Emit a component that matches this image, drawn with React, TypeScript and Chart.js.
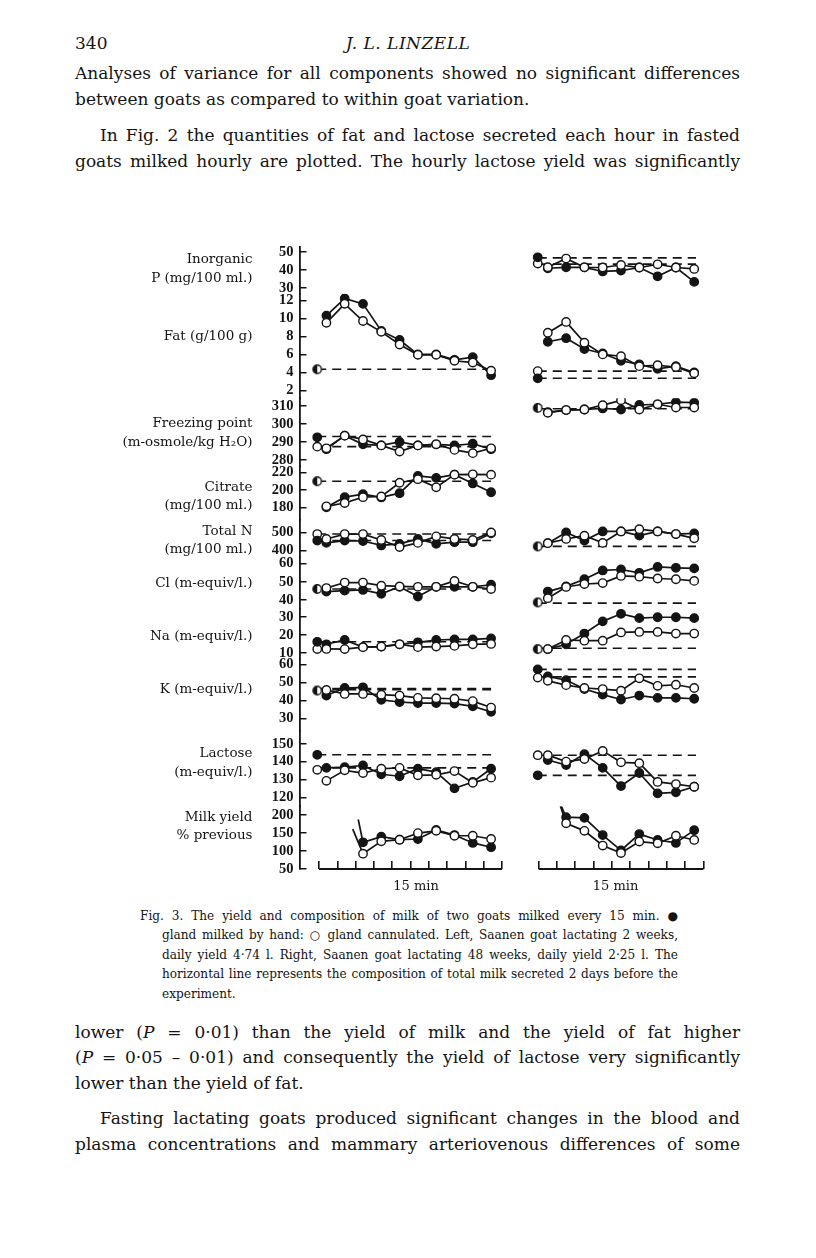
import React, { useEffect, useRef } from "react";
import { Chart, registerables } from "chart.js";

Chart.register(...registerables);

// ---------- sampling times (x, in 15-min tick units) ----------
const leftTicks = [1, 2, 3, 4, 5, 6, 7, 8, 9, 10, 11];
const rightTicks = [13, 14, 15, 16, 17, 18, 19, 20, 21, 22];
const leftTimes = [1.4, 2.4, 3.4, 4.4, 5.4, 6.4, 7.4, 8.4, 9.4, 10.4];
const rightTimes = [13.5, 14.5, 15.5, 16.5, 17.5, 18.5, 19.5, 20.5, 21.5];
const leftMilkTimes = [3.4, 4.4, 5.4, 6.4, 7.4, 8.4, 9.4, 10.4];
const rightMilkTimes = [14.5, 15.5, 16.5, 17.5, 18.5, 19.5, 20.5, 21.5];
const leftBaseTime = 0.9;
const rightBaseTime = 12.95;
const leftRefEnd = 10.4;
const rightRefEnd = 21.6;
const xLabelTimes = [6.3, 17.2];
const xLabelText = "15 min";

// ---------- Inorganic P (mg/100 ml.) ----------
const pTicks = [50, 40, 30];
const pRightFilled = [40.9, 41.4, 41.4, 39.1, 39.6, 41.3, 36.4, 41.3, 33.3];
const pRightOpen = [41.5, 46.3, 41.4, 41.3, 42.7, 41.3, 43.1, 41.3, 40.5];
const pRightBase = [47.0, 43.5];
const pRightRefs = [46.7, 43.2];

// ---------- Fat (g/100 g) ----------
const fatTicks = [12, 10, 8, 6, 4, 2];
const fatLeftFilled = [10.3, 12.2, 11.6, 8.6, 7.6, 6.0, 6.0, 5.4, 5.7, 3.7];
const fatLeftOpen = [9.5, 11.6, 9.7, 8.5, 7.1, 5.95, 5.95, 5.3, 5.1, 4.2];
const fatLeftBase = [4.35, 4.35];
const fatLeftRefs = [4.35];
const fatRightFilled = [7.4, 7.8, 6.6, 6.1, 5.3, 4.9, 4.4, 4.7, 4.0];
const fatRightOpen = [8.4, 9.6, 7.3, 6.0, 5.8, 4.7, 4.8, 4.6, 3.9];
const fatRightBase = [3.35, 4.15];
const fatRightRefs = [3.35, 4.15];

// ---------- Freezing point (m-osmole/kg H2O) ----------
const fpTicks = [310, 300, 290, 280];
const fpLeftFilled = [286, 293.5, 288.7, 288.1, 290, 288.1, 288.7, 288.1, 289, 286];
const fpLeftOpen = [286.5, 293.5, 291.4, 288.1, 284.7, 288.1, 288.7, 285.6, 283.8, 286.5];
const fpLeftBase = [292.6, 287.4];
const fpLeftRefs = [293.0, 287.4];
const fpRightFilled = [306.5, 307.7, 308, 308.6, 308, 310.5, 310.9, 312.1, 311.8];
const fpRightOpen = [306.2, 307.7, 308, 310.4, 313.1, 308, 310.9, 309.1, 309.1];
const fpRightBase = [308.9, 308.9];
const fpRightRefs = [308.4];

// ---------- Citrate (mg/100 ml.) ----------
const citTicks = [220, 200, 180];
const citLeftFilled = [180, 191.7, 195.1, 191.4, 196.3, 216.4, 214.1, 217.8, 207.6, 197.4];
const citLeftOpen = [181.1, 184.9, 191.7, 192.5, 208.4, 212.5, 203.1, 217.8, 218.2, 217.8];
const citLeftBase = [210.2, 210.2];
const citLeftRefs = [210.2];

// ---------- Total N (mg/100 ml.) ----------
const tnTicks = [500, 400];
const tnLeftFilled = [441.5, 454.6, 452, 427.3, 436, 463.4, 436, 445.4, 445.4, 494.5];
const tnLeftOpen = [463.4, 490.7, 490.7, 458, 418, 441.5, 478, 463.4, 458, 500];
const tnLeftBase = [454.6, 490.7];
const tnLeftRefs = [454.6, 490.7];
const tnRightFilled = [440, 500, 454.6, 505.5, 505.5, 482, 505.5, 490.7, 494.5];
const tnRightOpen = [440, 463.4, 482, 441.5, 505.5, 518, 505.5, 490.7, 467];
const tnRightBase = [421.9, 421.9];
const tnRightRefs = [421.9];

// ---------- Cl (m-equiv/l.) ----------
const clTicks = [60, 50, 40];
const clLeftFilled = [44.7, 45.2, 45.6, 43.5, 47.3, 42.0, 47.3, 47.3, 47.3, 48.4];
const clLeftOpen = [46.6, 49.6, 49.6, 47.9, 47.5, 47.3, 47.3, 50.5, 47.3, 46.1];
const clLeftBase = [46.1, 46.1];
const clLeftRefs = [46.1];
const clRightFilled = [44.7, 47.5, 51.4, 56.2, 56.7, 54.9, 58.1, 57.6, 57.3];
const clRightOpen = [41.1, 47.2, 48.8, 49.3, 53.2, 52.8, 51.8, 51.4, 50.5];
const clRightBase = [38.8, 38.8];
const clRightRefs = [38.4];

// ---------- Na (m-equiv/l.) ----------
const naTicks = [30, 20, 10];
const naLeftFilled = [14.9, 17.3, 13.3, 13.6, 14.9, 16.0, 17.3, 17.6, 17.6, 18.2];
const naLeftOpen = [12.3, 12.2, 13.3, 13.6, 14.9, 13.3, 13.6, 14.0, 14.9, 15.1];
const naLeftBase = [16.3, 12.2];
const naLeftRefs = [16.3];
const naRightFilled = [12.2, 14.9, 20.9, 27.7, 31.9, 29.5, 30.0, 30.0, 29.5];
const naRightOpen = [12.2, 17.3, 16.9, 16.9, 21.5, 21.8, 21.8, 20.9, 20.9];
const naRightBase = [12.2, 12.2];
const naRightRefs = [12.7];

// ---------- K (m-equiv/l.) ----------
const kTicks = [60, 50, 40, 30];
const kLeftFilled = [42.7, 46.9, 47.3, 40.3, 39.1, 38.5, 38.5, 38.2, 36.7, 33.6];
const kLeftOpen = [45.8, 43.6, 43.6, 43.2, 42.7, 41.4, 41.2, 40.9, 39.6, 36.0];
const kLeftBase = [45.5, 45.5];
const kLeftRefs = [46.0, 46.6];
const kRightFilled = [53.3, 51.3, 46.3, 43.2, 40.5, 42.7, 41.4, 41.4, 40.9];
const kRightOpen = [50.9, 48.5, 46.9, 46.3, 45.4, 52.3, 48.1, 48.7, 46.9];
const kRightBase = [57.3, 52.7];
const kRightRefs = [57.3, 53.1];

// ---------- Lactose (m-equiv/l.) ----------
const lacTicks = [150, 140, 130, 120];
const lacLeftFilled = [136.5, 136.9, 137.8, 132.9, 131.8, 136.0, 134.1, 125.0, 128.6, 136.0];
const lacLeftOpen = [129.2, 135.1, 133.6, 136.0, 136.5, 132.3, 132.6, 134.7, 128.1, 131.0];
const lacLeftBase = [143.8, 135.4];
const lacLeftRefs = [143.8, 136.5];
const lacRightFilled = [140.9, 138.1, 144.2, 136.5, 126.3, 133.6, 122.2, 122.8, 125.9];
const lacRightOpen = [143.6, 140.0, 141.4, 146.0, 139.6, 139.1, 128.6, 127.4, 125.9];
const lacRightBase = [132.3, 143.6];
const lacRightRefs = [132.3, 143.6];

// ---------- Milk yield (% previous) ----------
const milkTicks = [200, 150, 100, 50];
const milkLeftFilled = [124.4, 139.9, 131.7, 133.6, 159.0, 144.5, 122.7, 110.7];
const milkLeftOpen = [92.7, 127.1, 131.7, 150.0, 156.3, 142.6, 142.6, 133.6];
const milkLeftLeadTimes = [3.14, 2.84];
const milkLeftLeadValues = [188, 161];
const milkRightFilled = [194.5, 192.5, 144.5, 101.7, 147.3, 130.9, 122.7, 158.2];
const milkRightOpen = [177.3, 156.3, 115.4, 94.4, 126.3, 121.6, 142.6, 130.9];
const milkRightLeadTimes = [14.05, 14.05];
const milkRightLeadValues = [247, 247];

// ---------- panel (axis) layout ----------
const panels = [
  { id: "yP", title: ["Inorganic", "P (mg/100 ml.)"], ticks: pTicks, min: 26.73, max: 52.9, h: 48, labelAt: 40.6 },
  { id: "yFat", title: ["Fat (g/100 g)"], ticks: fatTicks, min: 1.13, max: 12.73, h: 107, labelAt: 8 },
  { id: "yFp", title: ["Freezing point", "(m-osmole/kg H\u2082O)"], ticks: fpTicks, min: 276.47, max: 314.18, h: 69.5, labelAt: 294.9 },
  { id: "yCit", title: ["Citrate", "(mg/100 ml.)"], ticks: citTicks, min: 165.6, max: 227.4, h: 54.5, labelAt: 192.3 },
  { id: "yTn", title: ["Total N", "(mg/100 ml.)"], ticks: tnTicks, min: 363.4, max: 571, h: 38, labelAt: 453.5 },
  { id: "yCl", title: ["Cl (m-equiv/l.)"], ticks: clTicks, min: 35.37, max: 63.56, h: 53, labelAt: 49 },
  { id: "yNa", title: ["Na (m-equiv/l.)"], ticks: naTicks, min: 6.89, max: 34.75, h: 51, labelAt: 19.5 },
  { id: "yK", title: ["K (m-equiv/l.)"], ticks: kTicks, min: 22.91, max: 63.27, h: 74, labelAt: 45.8 },
  { id: "yLac", title: ["Lactose", "(m-equiv/l.)"], ticks: lacTicks, min: 114.9, max: 157.13, h: 77, labelAt: 139.3 },
  { id: "yMilk", title: ["Milk yield", "% previous"], ticks: milkTicks, min: 50, max: 224.5, h: 64, labelAt: 168.5 },
];

const INK = "#141414";

function makeHalfMarker(): HTMLCanvasElement {
  const c = document.createElement("canvas");
  c.width = 12;
  c.height = 12;
  const g = c.getContext("2d")!;
  g.beginPath();
  g.arc(6, 6, 4.2, 0, Math.PI * 2);
  g.fillStyle = "#fff";
  g.fill();
  g.beginPath();
  g.moveTo(6, 6);
  g.arc(6, 6, 4.2, Math.PI / 2, (Math.PI * 3) / 2);
  g.closePath();
  g.fillStyle = INK;
  g.fill();
  g.beginPath();
  g.arc(6, 6, 4.2, 0, Math.PI * 2);
  g.lineWidth = 1.4;
  g.strokeStyle = INK;
  g.stroke();
  return c;
}

function buildDatasets(half: HTMLCanvasElement) {
  const ds: any[] = [];
  const pt = (filled: boolean) => ({
    pointStyle: "circle",
    pointBackgroundColor: filled ? INK : "#fff",
    pointBorderColor: INK,
    pointBorderWidth: 1.4,
  });
  const series = (
    yAxisID: string,
    times: number[],
    vals: number[],
    filled: boolean,
    leadT?: number,
    leadV?: number
  ) => {
    const data = times.map((t, i) => ({ x: t, y: vals[i] }));
    const radii = data.map(() => 4.2);
    if (leadT !== undefined && leadV !== undefined) {
      data.unshift({ x: leadT, y: leadV });
      radii.unshift(0);
    }
    ds.push({
      type: "line",
      yAxisID,
      data,
      borderColor: INK,
      borderWidth: 1.7,
      pointRadius: radii,
      ...pt(filled),
      fill: false,
      tension: 0,
      order: filled ? 2 : 1,
    });
  };
  const side = (
    yAxisID: string,
    times: number[],
    filled: number[],
    open: number[],
    baseTime: number,
    base: number[],
    refs: number[],
    refEnd: number
  ) => {
    refs.forEach((v) =>
      ds.push({
        type: "line",
        yAxisID,
        data: [
          { x: baseTime, y: v },
          { x: refEnd, y: v },
        ],
        borderColor: INK,
        borderWidth: 1.6,
        borderDash: [9, 6],
        pointRadius: 0,
        fill: false,
        order: 5,
      })
    );
    series(yAxisID, times, filled, true);
    series(yAxisID, times, open, false);
    if (base[0] === base[1]) {
      ds.push({
        type: "line",
        yAxisID,
        data: [{ x: baseTime, y: base[0] }],
        showLine: false,
        pointRadius: 4.2,
        pointStyle: half,
        order: 0,
      });
    } else {
      ds.push({ type: "line", yAxisID, data: [{ x: baseTime, y: base[0] }], showLine: false, pointRadius: 4.2, ...pt(true), order: 0 });
      ds.push({ type: "line", yAxisID, data: [{ x: baseTime, y: base[1] }], showLine: false, pointRadius: 4.2, ...pt(false), order: 0 });
    }
  };

  side("yP", rightTimes, pRightFilled, pRightOpen, rightBaseTime, pRightBase, pRightRefs, rightRefEnd);
  side("yFat", leftTimes, fatLeftFilled, fatLeftOpen, leftBaseTime, fatLeftBase, fatLeftRefs, leftRefEnd);
  side("yFat", rightTimes, fatRightFilled, fatRightOpen, rightBaseTime, fatRightBase, fatRightRefs, rightRefEnd);
  side("yFp", leftTimes, fpLeftFilled, fpLeftOpen, leftBaseTime, fpLeftBase, fpLeftRefs, leftRefEnd);
  side("yFp", rightTimes, fpRightFilled, fpRightOpen, rightBaseTime, fpRightBase, fpRightRefs, rightRefEnd);
  side("yCit", leftTimes, citLeftFilled, citLeftOpen, leftBaseTime, citLeftBase, citLeftRefs, leftRefEnd);
  side("yTn", leftTimes, tnLeftFilled, tnLeftOpen, leftBaseTime, tnLeftBase, tnLeftRefs, leftRefEnd);
  side("yTn", rightTimes, tnRightFilled, tnRightOpen, rightBaseTime, tnRightBase, tnRightRefs, rightRefEnd);
  side("yCl", leftTimes, clLeftFilled, clLeftOpen, leftBaseTime, clLeftBase, clLeftRefs, leftRefEnd);
  side("yCl", rightTimes, clRightFilled, clRightOpen, rightBaseTime, clRightBase, clRightRefs, rightRefEnd);
  side("yNa", leftTimes, naLeftFilled, naLeftOpen, leftBaseTime, naLeftBase, naLeftRefs, leftRefEnd);
  side("yNa", rightTimes, naRightFilled, naRightOpen, rightBaseTime, naRightBase, naRightRefs, rightRefEnd);
  side("yK", leftTimes, kLeftFilled, kLeftOpen, leftBaseTime, kLeftBase, kLeftRefs, leftRefEnd);
  side("yK", rightTimes, kRightFilled, kRightOpen, rightBaseTime, kRightBase, kRightRefs, rightRefEnd);
  side("yLac", leftTimes, lacLeftFilled, lacLeftOpen, leftBaseTime, lacLeftBase, lacLeftRefs, leftRefEnd);
  side("yLac", rightTimes, lacRightFilled, lacRightOpen, rightBaseTime, lacRightBase, lacRightRefs, rightRefEnd);

  series("yMilk", leftMilkTimes, milkLeftFilled, true, milkLeftLeadTimes[0], milkLeftLeadValues[0]);
  series("yMilk", leftMilkTimes, milkLeftOpen, false, milkLeftLeadTimes[1], milkLeftLeadValues[1]);
  series("yMilk", rightMilkTimes, milkRightFilled, true, milkRightLeadTimes[0], milkRightLeadValues[0]);
  series("yMilk", rightMilkTimes, milkRightOpen, false, milkRightLeadTimes[1], milkRightLeadValues[1]);

  // time-axis baselines for the two groups
  const milkMin = panels[panels.length - 1].min;
  [leftTicks, rightTicks].forEach((tk) =>
    ds.push({
      type: "line",
      yAxisID: "yMilk",
      data: [
        { x: tk[0], y: milkMin },
        { x: tk[tk.length - 1], y: milkMin },
      ],
      borderColor: INK,
      borderWidth: 1.8,
      pointRadius: 0,
      clip: false,
      order: 6,
    })
  );
  return ds;
}

const titlePlugin = {
  id: "panelTitles",
  afterDraw(chart: any) {
    const ctx = chart.ctx;
    ctx.save();
    ctx.fillStyle = INK;
    ctx.font = '13.5px "DejaVu Serif"';
    ctx.textAlign = "right";
    ctx.textBaseline = "middle";
    const xr = chart.chartArea.left - 47;
    const lh = 18.5;
    panels.forEach((p) => {
      const s = chart.scales[p.id];
      const cy = s.getPixelForValue(p.labelAt);
      const n = p.title.length;
      p.title.forEach((t, i) => ctx.fillText(t, xr, cy + (i - (n - 1) / 2) * lh));
    });
    ctx.restore();
  },
};

const CANVAS_W = 620;
const CANVAS_H = 680;

function Figure() {
  const ref = useRef<HTMLCanvasElement | null>(null);
  useEffect(() => {
    if (!ref.current) return;
    const half = makeHalfMarker();
    const scales: any = {
      x: {
        type: "linear",
        position: "bottom",
        min: -0.07,
        max: 22.5,
        bounds: "data",
        afterBuildTicks: (s: any) => {
          s.ticks = [...leftTicks, ...rightTicks, ...xLabelTimes].map((v) => ({ value: v }));
        },
        afterFit: (s: any) => {
          s.height = 30;
        },
        ticks: {
          autoSkip: false,
          maxRotation: 0,
          minRotation: 0,
          padding: 18,
          color: INK,
          font: { family: "DejaVu Serif", size: 13 },
          callback: (v: number) => (xLabelTimes.includes(v) ? xLabelText : ""),
        },
        grid: {
          drawOnChartArea: false,
          drawTicks: true,
          tickLength: -8,
          lineWidth: 1.6,
          color: (c: any) => (c.tick && xLabelTimes.includes(c.tick.value) ? "rgba(0,0,0,0)" : INK),
        },
        border: { display: false },
      },
    };
    panels.forEach((p, i) => {
      scales[p.id] = {
        type: "linear",
        position: "left",
        stack: "panels",
        stackWeight: p.h,
        weight: panels.length - i,
        min: p.min,
        max: p.max,
        bounds: "data",
        afterBuildTicks: (s: any) => {
          s.ticks = p.ticks.map((v) => ({ value: v }));
        },
        afterFit: (s: any) => {
          s.width = 42;
        },
        ticks: {
          autoSkip: false,
          padding: 13,
          color: INK,
          font: { family: "Liberation Serif", size: 14.5, weight: "bold" },
        },
        grid: { drawOnChartArea: false, drawTicks: true, tickLength: -7, color: INK, lineWidth: 1.5 },
        border: { display: true, color: INK, width: 1.8 },
      };
    });
    const chart = new Chart(ref.current, {
      type: "line",
      data: { datasets: buildDatasets(half) },
      options: {
        animation: false,
        responsive: false,
        events: [],
        layout: { padding: { left: 157.5, right: 7.5, top: 8, bottom: 6 } },
        plugins: { legend: { display: false }, tooltip: { enabled: false } },
        scales,
      },
      plugins: [titlePlugin],
    } as any);
    return () => chart.destroy();
  }, []);
  return (
    <canvas
      ref={ref}
      width={CANVAS_W}
      height={CANVAS_H}
      style={{ width: CANVAS_W, height: CANVAS_H, display: "block" }}
    />
  );
}

type LineProps = {
  top: number;
  left: number;
  width: number;
  size: number;
  lh: number;
  justify?: boolean;
  children: React.ReactNode;
};

function TextLine({ top, left, width, size, lh, justify = true, children }: LineProps) {
  return (
    <div
      style={{
        position: "absolute",
        top,
        left,
        width,
        fontSize: size,
        lineHeight: lh + "px",
        height: lh,
        textAlign: justify ? "justify" : "left",
        textAlignLast: justify ? ("justify" as any) : ("left" as any),
        overflow: "visible",
      }}
    >
      {children}
    </div>
  );
}

export default function App() {
  const B = 17; // body font size
  const C = 12.1; // caption font size
  return (
    <div
      style={{
        position: "relative",
        width: 800,
        height: 1242,
        fontFamily: '"DejaVu Serif", serif',
        color: INK,
        background: "#fff",
      }}
    >
      <div style={{ position: "absolute", top: 25, left: 67, fontSize: B, lineHeight: "20px" }}>340</div>
      <div
        style={{
          position: "absolute",
          top: 25,
          left: 0,
          width: 800,
          textAlign: "center",
          fontSize: B,
          lineHeight: "20px",
          fontStyle: "italic",
          letterSpacing: 0.5,
        }}
      >
        J. L. LINZELL
      </div>

      <TextLine top={55} left={67} width={665} size={B} lh={20}>
        Analyses of variance for all components showed no significant differences
      </TextLine>
      <TextLine top={81} left={67} width={665} size={B} lh={20} justify={false}>
        between goats as compared to within goat variation.
      </TextLine>
      <TextLine top={117} left={92} width={640} size={B} lh={20}>
        In Fig. 2 the quantities of fat and lactose secreted each hour in fasted
      </TextLine>
      <TextLine top={143} left={67} width={665} size={B} lh={20}>
        goats milked hourly are plotted. The hourly lactose yield was significantly
      </TextLine>

      <div style={{ position: "absolute", top: 217, left: 92 }}>
        <Figure />
      </div>

      <TextLine top={900} left={132} width={538} size={C} lh={16}>
        Fig. 3. The yield and composition of milk of two goats milked every 15 min. {"\u25CF"}
      </TextLine>
      <TextLine top={919} left={154} width={516} size={C} lh={16}>
        gland milked by hand: {"\u25CB"} gland cannulated. Left, Saanen goat lactating 2 weeks,
      </TextLine>
      <TextLine top={939} left={154} width={516} size={C} lh={16}>
        daily yield 4·74 l. Right, Saanen goat lactating 48 weeks, daily yield 2·25 l. The
      </TextLine>
      <TextLine top={958} left={154} width={516} size={C} lh={16}>
        horizontal line represents the composition of total milk secreted 2 days before the
      </TextLine>
      <TextLine top={978} left={154} width={516} size={C} lh={16} justify={false}>
        experiment.
      </TextLine>

      <TextLine top={1014} left={67} width={665} size={B} lh={20}>
        lower (<i>P</i> = 0·01) than the yield of milk and the yield of fat higher
      </TextLine>
      <TextLine top={1039} left={67} width={665} size={B} lh={20}>
        (<i>P</i> = 0·05 – 0·01) and consequently the yield of lactose very significantly
      </TextLine>
      <TextLine top={1065} left={67} width={665} size={B} lh={20} justify={false}>
        lower than the yield of fat.
      </TextLine>
      <TextLine top={1100} left={92} width={640} size={B} lh={20}>
        Fasting lactating goats produced significant changes in the blood and
      </TextLine>
      <TextLine top={1126} left={67} width={665} size={B} lh={20}>
        plasma concentrations and mammary arteriovenous differences of some
      </TextLine>
    </div>
  );
}
